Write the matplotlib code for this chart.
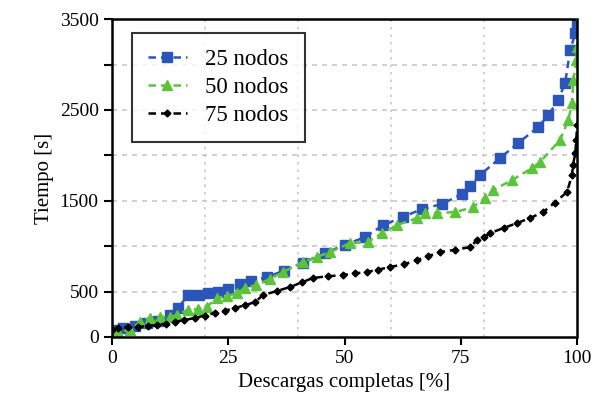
import matplotlib
matplotlib.use("Agg")
import matplotlib.pyplot as plt

plt.rcParams["font.family"] = ["Liberation Serif", "DejaVu Serif"]

# 25 nodos
x25 = [0, 2.5, 5, 7.5, 10, 12.5, 14.2, 16.4, 18.7, 20.6, 22.8, 25, 27.5, 30, 33.3,
       37, 41, 45.8, 50, 54.4, 58.3, 62.5, 66.6, 70.9, 75.2, 77, 79.1, 83.4, 87.3,
       91.6, 93.8, 95.9, 97.4, 98.5, 99.6, 100]
y25 = [80, 100, 120, 150, 180, 240, 320, 460, 460, 480, 500, 530, 580, 616, 660,
       730, 815, 924, 1012, 1100, 1232, 1320, 1408, 1463, 1573, 1661, 1782, 1969, 2134,
       2310, 2442, 2607, 2794, 3157, 3344, 3432]

# 50 nodos
x50 = [0, 1.3, 3.9, 6, 8.2, 10.3, 12.5, 14, 16.3, 18.5, 20.4, 22.6, 24.7, 26.9, 28.6,
       31, 34, 36.8, 41, 44, 46.9, 51.2, 55, 58, 61.3, 65.6, 67.3, 69.8, 73.8, 77.6,
       80.2, 81.9, 86, 90.3, 92, 96.3, 98.1, 98.9, 99.2, 99.8, 100]
y50 = [60, 55, 77, 165, 210, 220, 220, 240, 300, 308, 330, 430, 450, 484, 540,
       570, 640, 715, 825, 880, 935, 1034, 1045, 1140, 1232, 1309, 1364, 1364, 1375, 1430,
       1529, 1617, 1727, 1859, 1925, 2167, 2387, 2574, 2827, 3047, 3190]

# 75 nodos
x75 = [0, 1.3, 3.5, 5.6, 7.7, 9.7, 11.6, 13.5, 15.6, 17.8, 20, 22.2, 24.4, 26.5, 28.7,
       30.8, 32.5, 35.4, 38.3, 40.8, 43.2, 46.5, 49.7, 52.3, 54.8, 57.3, 59.8, 62.7,
       65.6, 68, 70.5, 73.8, 77, 78.5, 80, 81.3, 84.2, 87.1, 89.9, 92.7, 95.2, 97.8,
       98.9, 99.1, 99.6, 99.8, 100]
y75 = [80, 100, 105, 110, 120, 132, 148, 165, 185, 210, 236, 264, 290, 320, 350,
       385, 462, 505, 550, 600, 650, 668, 682, 700, 715, 742, 770, 800,
       847, 890, 935, 960, 990, 1067, 1100, 1144, 1200, 1254, 1310, 1375, 1480, 1595,
       1782, 1892, 2024, 2167, 2332]

xticks = [0, 25, 50, 75, 100]
yticks = [0, 500, 1000, 1500, 2000, 2500, 3000, 3500]
ylabels = ["0", "500", "", "1500", "", "2500", "", "3500"]

fig = plt.figure(figsize=(5.95, 4.16), dpi=100)
ax = fig.add_axes([0.188, 0.19, 0.782, 0.764])

for v in [20, 40, 60, 80]:
    ax.axvline(v, color="#c8c8c8", ls=(0, (1.5, 3)), lw=1.2, zorder=0)
for v in yticks[1:-1]:
    ax.axhline(v, color="#c8c8c8", ls=(0, (3, 3)), lw=1.2, zorder=0)

ax.plot(x25, y25, ls=(0, (3, 2)), color="#2b55b8", marker="s", ms=6.5, lw=1.8,
        label="25 nodos")
ax.plot(x50, y50, ls=(0, (3, 2)), color="#5cc43a", marker="^", ms=7, lw=1.8,
        label="50 nodos")
ax.plot(x75, y75, ls=(0, (3, 2)), color="black", marker="D", ms=3.5, lw=1.8,
        label="75 nodos")

ax.set_xlim(0, 100)
ax.set_ylim(0, 3500)
ax.set_xticks(xticks)
ax.set_yticks(yticks)
ax.set_yticklabels(ylabels)
ax.tick_params(direction="out", length=6, width=1.5, labelsize=14, color="black",
               right=False, top=False)
for s in ax.spines.values():
    s.set_linestyle((0, (2, 1)))
    s.set_linewidth(1.8)
ax.set_xlabel("Descargas completas [%]", fontsize=15)
ax.set_ylabel("Tiempo [s]", fontsize=15)

leg = ax.legend(loc="upper left", bbox_to_anchor=(0.043, 0.956), fontsize=16.5,
                frameon=True, fancybox=False, edgecolor="black", handlelength=1.7,
                borderpad=0.7, labelspacing=0.3, borderaxespad=0,
                handletextpad=0.8)
leg.get_frame().set_linewidth(1.5)

fig.savefig("out.png", dpi=100)
